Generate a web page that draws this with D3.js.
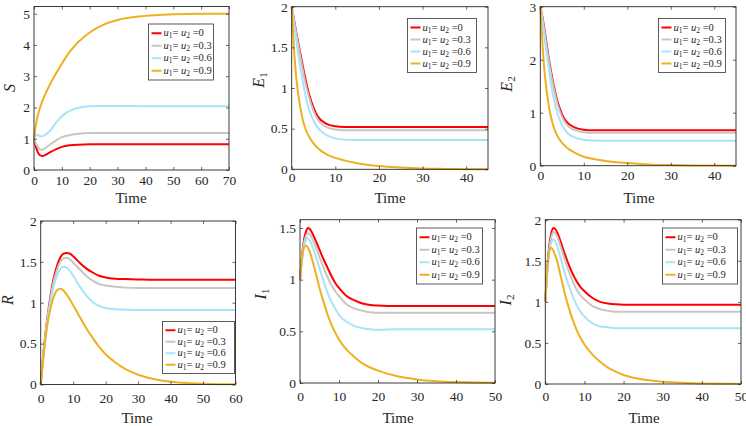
<!DOCTYPE html>
<html><head><meta charset="utf-8">
<script src="https://cdn.jsdelivr.net/npm/d3@7"></script>
<style>body{margin:0;background:#fff}svg{display:block}
svg text{font-family:"Liberation Serif","Times New Roman",Times,serif !important;}
</style>
</head><body>
<svg id="c" width="746" height="426"></svg>
<script>
// ---------- DATA ----------
const seriesLabels = ["0", "0.3", "0.6", "0.9"];
const seriesColors = ["#ff0000", "#c9c6c2", "#a8e4f7", "#edb120"];

const sTime   = [0,0.5,1,2,3,4,6,8,10,13,16,20,25,30,40,50,60,70];
const sRed    = [1.0,0.8,0.65,0.48,0.45,0.48,0.58,0.67,0.74,0.79,0.81,0.82,0.82,0.82,0.82,0.82,0.82,0.82];
const sGray   = [1.0,0.88,0.79,0.67,0.65,0.7,0.83,0.95,1.05,1.12,1.16,1.18,1.18,1.18,1.18,1.18,1.18,1.18];
const sBlue   = [1.0,1.1,1.13,1.09,1.08,1.12,1.28,1.52,1.72,1.9,1.99,2.04,2.05,2.05,2.04,2.04,2.04,2.04];
const sOrange = [1.0,1.35,1.6,1.95,2.2,2.42,2.78,3.1,3.4,3.8,4.1,4.4,4.65,4.8,4.93,4.98,5.0,5.0];

const eTime    = [0,0.5,1,2,3,4,5,6,8,10,12,15,20,25,30,35,40,45];
const e1Red    = [2.0,1.85,1.7,1.42,1.15,0.92,0.76,0.65,0.56,0.53,0.52,0.52,0.52,0.52,0.52,0.52,0.52,0.52];
const e1Gray   = [2.0,1.84,1.68,1.38,1.1,0.88,0.72,0.61,0.52,0.49,0.48,0.48,0.48,0.48,0.48,0.48,0.48,0.48];
const e1Blue   = [2.0,1.8,1.6,1.25,0.95,0.73,0.6,0.51,0.42,0.38,0.365,0.36,0.36,0.36,0.36,0.36,0.36,0.36];
const e1Orange = [2.0,1.5,1.15,0.75,0.52,0.4,0.32,0.26,0.185,0.14,0.11,0.075,0.04,0.022,0.01,0.005,0.002,0.0];

const e2Red    = [3,2.8,2.55,2.0,1.55,1.2,0.97,0.83,0.72,0.68,0.67,0.67,0.67,0.67,0.67,0.67,0.67,0.67];
const e2Gray   = [3,2.77,2.5,1.95,1.5,1.15,0.92,0.78,0.67,0.63,0.62,0.62,0.62,0.62,0.62,0.62,0.62,0.62];
const e2Blue   = [3,2.72,2.4,1.8,1.3,0.97,0.77,0.64,0.53,0.49,0.475,0.47,0.47,0.47,0.47,0.47,0.47,0.47];
const e2Orange = [3,2.3,1.75,1.1,0.75,0.55,0.43,0.35,0.24,0.17,0.13,0.09,0.05,0.025,0.012,0.005,0.002,0];

const rTime   = [0,1,2,3,4,5,6,7,8,9,10,12,14,16,18,20,23,26,30,35,40,45,50,55,60];
const rRed    = [0,0.45,0.8,1.08,1.3,1.45,1.55,1.6,1.61,1.6,1.57,1.49,1.42,1.37,1.33,1.31,1.295,1.29,1.285,1.28,1.28,1.28,1.28,1.28,1.28];
const rGray   = [0,0.44,0.78,1.05,1.26,1.4,1.5,1.54,1.55,1.53,1.49,1.41,1.33,1.27,1.23,1.21,1.195,1.185,1.18,1.18,1.18,1.18,1.18,1.18,1.18];
const rBlue   = [0,0.42,0.75,1.0,1.2,1.33,1.41,1.44,1.43,1.39,1.33,1.2,1.09,1.01,0.96,0.935,0.92,0.915,0.91,0.91,0.91,0.91,0.91,0.91,0.91];
const rOrange = [0,0.4,0.72,0.93,1.07,1.15,1.17,1.15,1.1,1.04,0.97,0.83,0.69,0.57,0.46,0.37,0.27,0.19,0.12,0.065,0.035,0.018,0.009,0.004,0.002];

const iTime    = [0,0.5,1,1.5,2,2.5,3,4,5,6,7,8,9,10,12,14,16,18,20,25,30,35,40,45,50];
const i1Red    = [1,1.22,1.38,1.46,1.5,1.49,1.46,1.38,1.29,1.2,1.12,1.04,0.97,0.92,0.84,0.8,0.77,0.755,0.75,0.745,0.745,0.745,0.745,0.745,0.745];
const i1Gray   = [1,1.2,1.35,1.42,1.45,1.44,1.41,1.32,1.22,1.12,1.03,0.95,0.89,0.84,0.76,0.72,0.7,0.685,0.68,0.68,0.68,0.68,0.68,0.68,0.68];
const i1Blue   = [1,1.18,1.32,1.38,1.4,1.38,1.34,1.23,1.11,0.99,0.88,0.79,0.72,0.66,0.59,0.55,0.53,0.52,0.515,0.52,0.52,0.52,0.52,0.52,0.52];
const i1Orange = [1,1.2,1.31,1.33,1.31,1.27,1.21,1.07,0.92,0.79,0.67,0.57,0.49,0.42,0.32,0.25,0.19,0.15,0.12,0.065,0.035,0.018,0.009,0.004,0.002];

const i2Red    = [1,1.4,1.68,1.83,1.9,1.89,1.85,1.72,1.58,1.45,1.34,1.25,1.18,1.13,1.05,1.0,0.98,0.97,0.965,0.965,0.965,0.965,0.965,0.965,0.965];
const i2Gray   = [1,1.38,1.64,1.78,1.85,1.84,1.8,1.66,1.51,1.37,1.25,1.15,1.08,1.03,0.95,0.91,0.89,0.88,0.88,0.88,0.88,0.88,0.88,0.88,0.88];
const i2Blue   = [1,1.35,1.6,1.72,1.76,1.74,1.68,1.52,1.35,1.2,1.07,0.96,0.88,0.82,0.74,0.7,0.69,0.68,0.68,0.68,0.68,0.68,0.68,0.68,0.68];
const i2Orange = [1,1.4,1.62,1.66,1.63,1.57,1.5,1.3,1.1,0.93,0.78,0.66,0.56,0.48,0.36,0.27,0.2,0.15,0.11,0.055,0.028,0.014,0.007,0.003,0.001];

const xTicksS = [0,10,20,30,40,50,60,70];
const xTicksE = [0,10,20,30,40];
const xTicksR = [0,10,20,30,40,50,60];
const xTicksI = [0,10,20,30,40,50];
const yTicksS = [0,1,2,3,4,5];
const yTicksE1 = [0,0.5,1,1.5,2];
const yTicksE2 = [0,1,2,3];
const yTicksR = [0,0.5,1,1.5,2];
const yTicksI1 = [0,0.5,1,1.5];
const yTicksI2 = [0,0.5,1,1.5,2];

// ---------- DRAW ----------
const svg = d3.select("#c");
const SERIF = "Liberation Serif";

const panels = [
  {x0:34, x1:229, y0:6.5, y1:170, xd:[0,70], yd:[0,5.23], xt:xTicksS, yt:yTicksS, time:sTime,
   vals:[sRed,sGray,sBlue,sOrange], lab:"S", sub:null, labX:11, labY:88, timeX:131, timeY:203, tlY:185,
   leg:{x:148.5,y:24,w:65,h:56}},
  {x0:291.7, x1:488, y0:6.7, y1:169.3, xd:[0,45], yd:[0,2], xt:xTicksE, yt:yTicksE1, time:eTime,
   vals:[e1Red,e1Gray,e1Blue,e1Orange], lab:"E", sub:"1", labX:260, labY:80, timeX:390, timeY:203, tlY:182,
   leg:{x:407.5,y:18.5,w:69,h:54}},
  {x0:540.3, x1:736, y0:6.7, y1:165.7, xd:[0,45], yd:[0,3], xt:xTicksE, yt:yTicksE2, time:eTime,
   vals:[e2Red,e2Gray,e2Blue,e2Orange], lab:"E", sub:"2", labX:508, labY:84, timeX:639, timeY:202.5, tlY:180,
   leg:{x:658.5,y:18.5,w:67,h:54}},
  {x0:40.7, x1:235.5, y0:221, y1:384.5, xd:[0,60], yd:[0,2], xt:xTicksR, yt:yTicksR, time:rTime,
   vals:[rRed,rGray,rBlue,rOrange], lab:"R", sub:null, labX:9, labY:300, timeX:137, timeY:423, tlY:403,
   leg:{x:162.5,y:321.5,w:72,h:52}},
  {x0:300, x1:495, y0:219.7, y1:383, xd:[0,50], yd:[0,1.58], xt:xTicksI, yt:yTicksI1, time:iTime,
   vals:[i1Red,i1Gray,i1Blue,i1Orange], lab:"I", sub:"1", labX:262, labY:294, timeX:398, timeY:423, tlY:401,
   leg:{x:416.5,y:228,w:66,h:56}},
  {x0:545.3, x1:741, y0:219.7, y1:384, xd:[0,50], yd:[0,2], xt:xTicksI, yt:yTicksI2, time:iTime,
   vals:[i2Red,i2Gray,i2Blue,i2Orange], lab:"I", sub:"2", labX:507, labY:300, timeX:644, timeY:423, tlY:401,
   leg:{x:662.5,y:228,w:75,h:56}}
];

const fmt = d => String(d);

panels.forEach(p => {
  const x = d3.scaleLinear().domain(p.xd).range([p.x0, p.x1]);
  const y = d3.scaleLinear().domain(p.yd).range([p.y1, p.y0]);
  const g = svg.append("g");

  const line = d3.line().x((d,i)=>x(p.time[i])).y(d=>y(d)).curve(d3.curveMonotoneX);
  p.vals.forEach((arr, k) => {
    g.append("path").datum(arr).attr("d", line)
      .attr("fill","none").attr("stroke", seriesColors[k]).attr("stroke-width", 2)
      .attr("stroke-linejoin","round");
  });

  g.append("rect").attr("x", p.x0).attr("y", p.y0).attr("width", p.x1-p.x0).attr("height", p.y1-p.y0)
    .attr("fill","none").attr("stroke","#262626").attr("stroke-width",0.9);

  const tickStyle = sel => {
    sel.attr("font-family", SERIF);
    sel.select(".domain").remove();
    sel.selectAll(".tick line").attr("stroke","#262626").attr("stroke-width",0.7);
    sel.selectAll(".tick text").style("font-family", SERIF).attr("font-size", 13.5).attr("fill","#262626");
  };

  const gb = g.append("g").attr("transform",`translate(0,${p.y1})`)
    .call(d3.axisBottom(x).tickValues(p.xt).tickFormat(fmt).tickSizeInner(-3).tickSizeOuter(0).tickPadding(0));
  tickStyle(gb);
  gb.selectAll(".tick text").attr("dy", null).attr("y", p.tlY - p.y1);
  const gt = g.append("g").attr("transform",`translate(0,${p.y0})`)
    .call(d3.axisTop(x).tickValues(p.xt).tickFormat("").tickSizeInner(-3).tickSizeOuter(0));
  tickStyle(gt);
  const gl = g.append("g").attr("transform",`translate(${p.x0},0)`)
    .call(d3.axisLeft(y).tickValues(p.yt).tickFormat(fmt).tickSizeInner(-3).tickSizeOuter(0).tickPadding(4));
  tickStyle(gl);
  gl.selectAll(".tick text").attr("x", -4);
  const gr = g.append("g").attr("transform",`translate(${p.x1},0)`)
    .call(d3.axisRight(y).tickValues(p.yt).tickFormat("").tickSizeInner(-3).tickSizeOuter(0));
  tickStyle(gr);

  g.append("text").attr("x", p.timeX).attr("y", p.timeY).attr("text-anchor","middle")
    .style("font-family", SERIF).attr("font-size", 15).attr("fill","#262626").text("Time");

  const yl = g.append("text").attr("transform", `translate(${p.labX},${p.labY}) rotate(-90)`)
    .attr("text-anchor","middle").attr("dominant-baseline","middle")
    .style("font-family", SERIF).attr("font-size", 16).attr("fill","#262626");
  yl.append("tspan").attr("font-style","italic").text(p.lab);
  if (p.sub) yl.append("tspan").attr("font-size", 11).attr("dy", 4).text(p.sub);

  const L = p.leg;
  g.append("rect").attr("x", L.x).attr("y", L.y).attr("width", L.w).attr("height", L.h)
    .attr("fill","#fff").attr("stroke","#333").attr("stroke-width",0.8);
  const step = (L.h - 6) / 4;
  seriesLabels.forEach((s, k) => {
    const cy = L.y + 3 + step*(k+0.5);
    g.append("line").attr("x1", L.x+3).attr("x2", L.x+13).attr("y1", cy).attr("y2", cy)
      .attr("stroke", seriesColors[k]).attr("stroke-width", 2);
    const t = g.append("text").attr("x", L.x+15).attr("y", cy+3.2)
      .style("font-family", SERIF).attr("font-size", 10.5).attr("fill","#262626");
    t.append("tspan").attr("font-style","italic").text("u");
    t.append("tspan").attr("font-size", 7.5).attr("dy", 2).text("1");
    t.append("tspan").attr("dy", -2).text("= ");
    t.append("tspan").attr("font-style","italic").text("u");
    t.append("tspan").attr("font-size", 7.5).attr("dy", 2).text("2");
    t.append("tspan").attr("dy", -2).text(" =" + s);
  });
});
</script>
</body></html>
